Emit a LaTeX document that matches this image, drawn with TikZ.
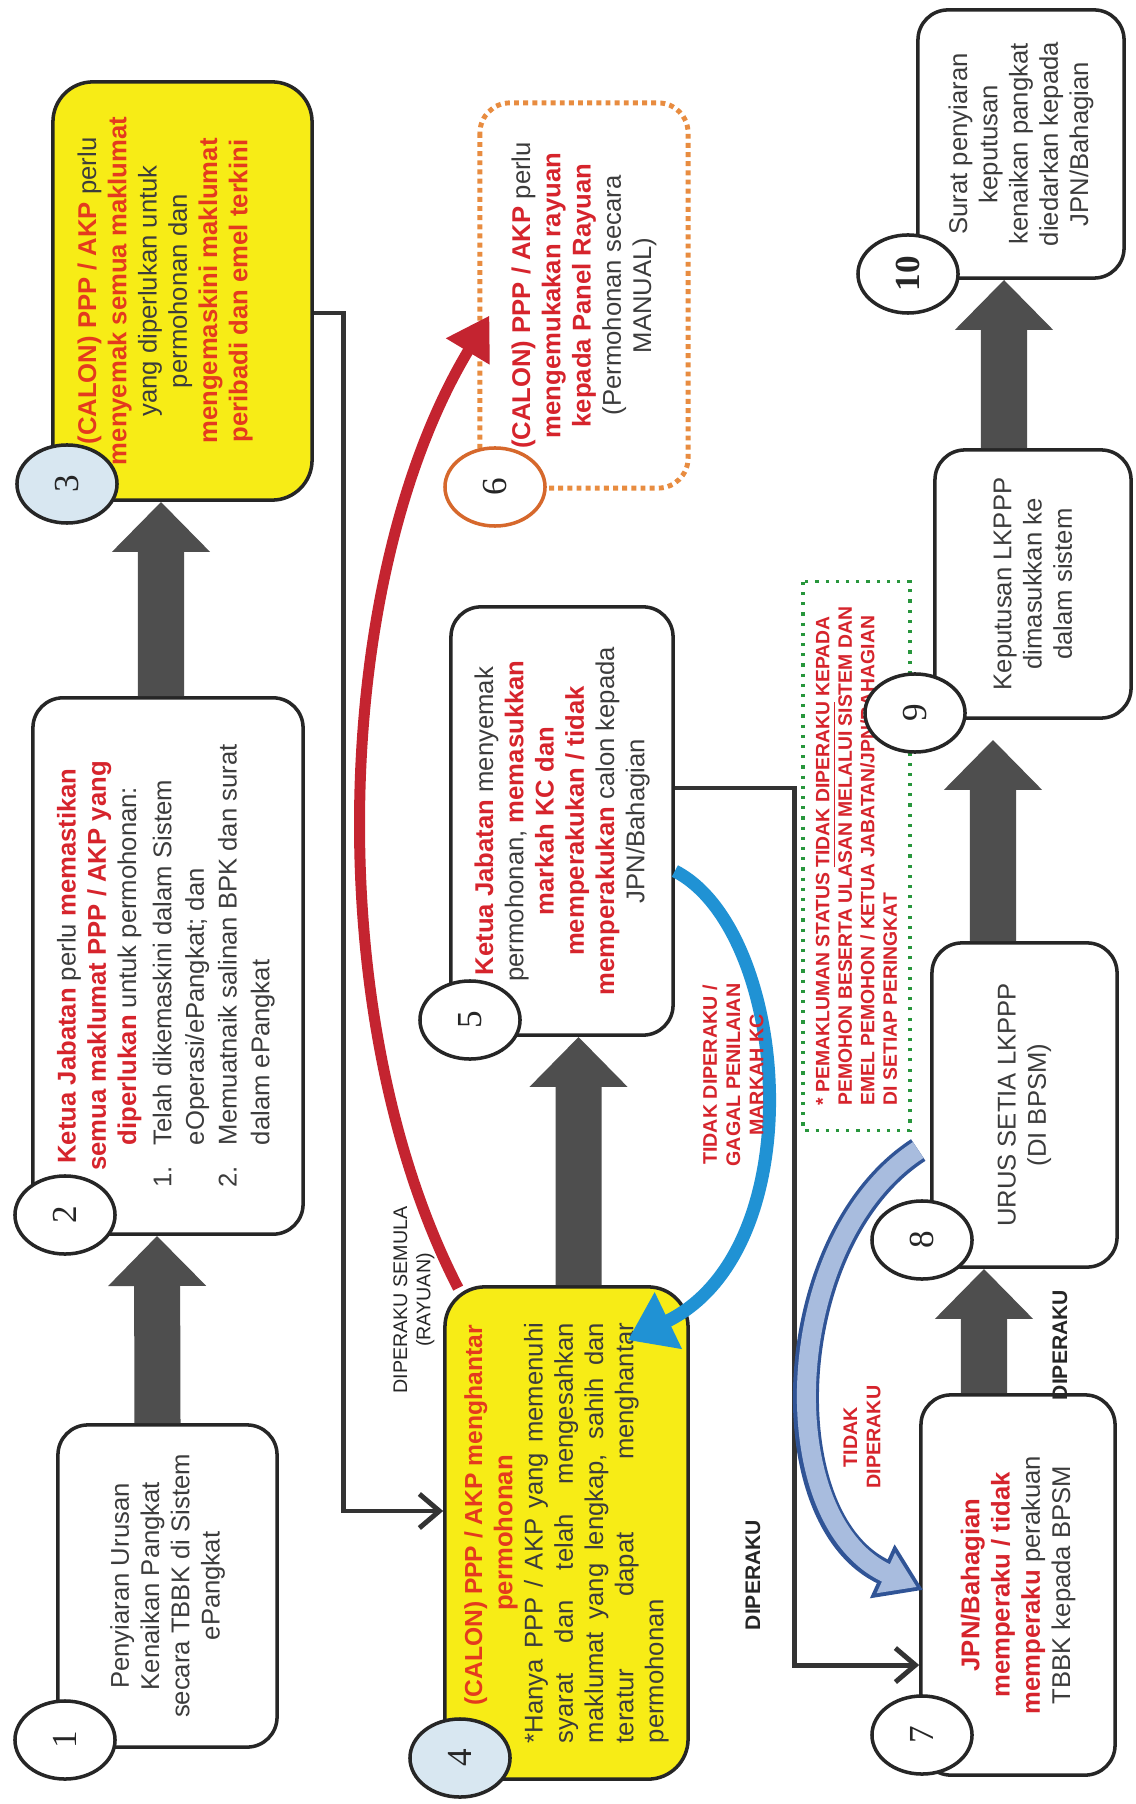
\documentclass[tikz,border=0pt]{standalone}
\usepackage{fontspec}
\setmainfont{Liberation Sans}
\newfontfamily\numfont{Liberation Serif}
\usetikzlibrary{positioning,shapes.geometric,arrows.meta}

\definecolor{boxyellow}{RGB}{247,236,22}
\definecolor{redtxt}{RGB}{214,36,44}
\definecolor{orgtxt}{RGB}{228,58,30}
\definecolor{txtgray}{RGB}{60,60,60}
\definecolor{circblue}{RGB}{216,231,241}
\definecolor{arrowgray}{RGB}{78,78,78}
\definecolor{arcred}{RGB}{196,36,48}
\definecolor{arcblue}{RGB}{32,146,212}
\definecolor{bandblue}{RGB}{48,84,150}
\definecolor{bandfill}{RGB}{168,188,222}
\definecolor{dotorange}{RGB}{232,140,64}
\definecolor{circorange}{RGB}{214,104,44}
\definecolor{dotgreen}{RGB}{40,150,60}

\newcommand{\rtx}[1]{\textcolor{redtxt}{\bfseries #1}}
\newcommand{\otx}[1]{\textcolor{orgtxt}{\bfseries #1}}

\begin{document}
\begin{tikzpicture}[x=0.01cm,y=-0.01cm,
  every node/.style={font=\fontsize{7.3}{8.6}\selectfont,text=txtgray},
  procbox/.style={draw=black!85,line width=1pt,fill=white,rounded corners=0.3cm,rotate=90,align=center},
  ybox/.style={procbox,fill=boxyellow,rounded corners=0.4cm},
  dotbox/.style={procbox,draw=dotorange,line width=1.4pt,dash pattern=on 1.4pt off 1.2pt},
  notebox/.style={draw=dotgreen,line width=0.9pt,dotted,rotate=90,align=left,inner sep=2pt,
    font=\bfseries\fontsize{5.5}{6.4}\selectfont,text=redtxt},
  numcirc/.style={ellipse,draw=black!85,line width=1pt,fill=white,rotate=90,inner sep=0pt,
    minimum width=0.78cm,minimum height=1.0cm,font=\numfont\fontsize{10}{10}\selectfont,text=black!85},
  bigarrow/.style={line width=0.46cm,draw=arrowgray,-{Triangle[length=0.5cm,width=0.95cm]}},
  link/.style={line width=1.4pt,draw=black!80,-{Straight Barb[length=0.2cm,width=0.34cm]}},
  redarc/.style={line width=0.11cm,draw=arcred,-{Triangle[length=0.42cm,width=0.48cm]}},
  bluearc/.style={line width=0.13cm,draw=arcblue,-{Triangle[length=0.45cm,width=0.6cm]}},
  bandout/.style={line width=0.26cm,draw=bandblue,-{Triangle[length=0.45cm,width=0.56cm]}},
  bandin/.style={line width=0.19cm,draw=bandfill,shorten >=0.07cm,-{Triangle[length=0.34cm,width=0.42cm]}},
  flowlbl/.style={rotate=90,align=center,font=\fontsize{5.6}{6.6}\selectfont,text=black!85},
  redlbl/.style={rotate=90,align=center,font=\bfseries\fontsize{5.6}{6.6}\selectfont,text=redtxt}]

\fill[white] (0,0) rectangle (1135,1804);
\useasboundingbox (0,0) rectangle (1135,1804);

% left column
\node[procbox,minimum width=3.22cm,minimum height=2.19cm] (b1) at (167.5,1586)
  {Penyiaran Urusan\\Kenaikan Pangkat\\secara TBBK di Sistem\\ePangkat};
\node[procbox,minimum width=5.36cm,minimum height=2.70cm] (b2) at (168,966)
  {\rtx{Ketua Jabatan} perlu \rtx{memastikan}\\
   \rtx{semua maklumat PPP / AKP yang}\\
   \rtx{diperlukan} untuk permohonan:\\[1pt]
   \renewcommand{\arraystretch}{1.08}%
   \begin{tabular}{@{}l@{\hspace{6pt}}l@{}}
   1. & Telah dikemaskini dalam Sistem\\
      & eOperasi/ePangkat; dan\\
   2. & Memuatnaik salinan BPK dan surat\\
      & dalam ePangkat
   \end{tabular}};
\node[ybox,minimum width=4.18cm,minimum height=2.59cm,text depth=0.4cm] (b3) at (182.5,291)
  {\otx{(CALON) PPP / AKP} perlu\\
   \otx{menyemak semua maklumat}\\
   yang diperlukan untuk\\
   permohonan dan\\
   \otx{mengemaskini maklumat}\\
   \otx{peribadi dan emel terkini}};

% middle column
\node[ybox,minimum width=4.92cm,minimum height=2.43cm] (b4) at (566.5,1533)
  {\hspace*{0.35cm}\otx{\fontsize{7}{8.6}\selectfont(CALON) PPP / AKP menghantar}\\
   \otx{permohonan}\\
   \makebox[4.2cm][s]{*Hanya PPP / AKP yang memenuhi}\\
   \makebox[4.2cm][s]{syarat dan telah mengesahkan}\\
   \makebox[4.2cm][s]{maklumat yang lengkap, sahih dan}\\
   \makebox[4.2cm][s]{teratur dapat menghantar}\\
   \makebox[4.2cm][l]{permohonan}};
\node[procbox,minimum width=4.28cm,minimum height=2.22cm] (b5) at (562,821)
  {\rtx{Ketua Jabatan} menyemak\\
   permohonan, \rtx{memasukkan}\\
   \rtx{markah KC dan}\\
   \rtx{memperakukan / tidak}\\
   \rtx{memperakukan} calon kepada\\
   JPN/Bahagian};
\node[dotbox,minimum width=3.85cm,minimum height=2.08cm] (b6) at (584,295.5)
  {\rtx{(CALON) PPP / AKP} perlu\\
   \rtx{mengemukakan rayuan}\\
   \rtx{kepada Panel Rayuan}\\
   (Permohonan secara\\
   MANUAL)};

% right column
\node[procbox,minimum width=3.80cm,minimum height=1.94cm] (b7) at (1018,1585)
  {\rtx{JPN/Bahagian}\\
   \rtx{memperaku / tidak}\\
   \rtx{memperaku} perakuan\\
   TBBK kepada BPSM};
\node[procbox,minimum width=3.24cm,minimum height=1.85cm] (b8) at (1024.5,1105)
  {URUS SETIA LKPPP\\(DI BPSM)};
\node[procbox,minimum width=2.68cm,minimum height=1.96cm] (b9) at (1033,584)
  {Keputusan LKPPP\\dimasukkan ke\\dalam sistem};
\node[procbox,minimum width=2.68cm,minimum height=2.06cm] (b10) at (1021,144)
  {Surat penyiaran\\keputusan\\kenaikan pangkat\\diedarkan kepada\\JPN/Bahagian};
\node[notebox,minimum width=5.48cm,minimum height=1.07cm] (note) at (856.5,856)
  {* PEMAKLUMAN STATUS \underline{TIDAK DIPERAKU} KEPADA\\
   PEMOHON BESERTA ULASAN MELALUI SISTEM DAN\\
   EMEL PEMOHON / KETUA JABATAN/JPN/BAHAGIAN\\
   DI SETIAP PERINGKAT};

% main flow
\draw[bigarrow] ([xshift=-0.1cm]b1.east) -- ([xshift=-0.11cm]b2.west);
\draw[bigarrow] ([xshift=-0.07cm]b2.east) -- ([xshift=-0.215cm]b3.west);
\draw[bigarrow] ([xshift=0.12cm]b4.east) -- ([xshift=0.165cm]b5.west);
\draw[bigarrow] ([xshift=-0.34cm]b7.east) -- ([xshift=-0.405cm]b8.west);
\draw[bigarrow,shorten >=0.2cm] ([xshift=-0.315cm]b8.east) -- ([xshift=-0.40cm]b9.west);
\draw[bigarrow] ([xshift=-0.29cm]b9.east) -- ([xshift=-0.17cm]b10.west);

\draw[link] ([yshift=-0.22cm]b3.south) -- ++(0.3cm,0) |- ([yshift=0.22cm]b4.north);
\draw[link] ([yshift=0.33cm]b5.south) -- ++(1.2cm,0) |- ([yshift=-0.8cm]b7.north);

% appeal and rejection loops
\draw[redarc] ([xshift=0.15cm,yshift=-0.03cm]b4.north east)
  .. controls (320,1020) and (330,580) .. ([xshift=0.12cm,yshift=-0.2cm]b6.north);
\draw[bluearc] ([yshift=-0.5cm]b5.south)
  .. controls (790,930) and (815,1250) .. ([xshift=-0.62cm,yshift=-0.55cm]b4.south east);
\draw[bandout] ([xshift=-0.12cm,yshift=-0.45cm]b8.north)
  .. controls (780,1240) and (770,1520) .. ([xshift=0.04cm,yshift=-0.05cm]b7.north);
\draw[bandin] ([xshift=-0.12cm,yshift=-0.45cm]b8.north)
  .. controls (780,1240) and (770,1520) .. ([xshift=0.04cm,yshift=-0.05cm]b7.north);

% labels
\node[flowlbl] (lblsemula) at (414,1300) {DIPERAKU SEMULA\\(RAYUAN)};
\node[flowlbl,font=\bfseries\fontsize{6}{7}\selectfont] (lbldip1) at (753,1575) {DIPERAKU};
\node[flowlbl,font=\bfseries\fontsize{6}{7}\selectfont] (lbldip2) at (1060,1345) {DIPERAKU};
\node[redlbl] (lbltidak) at (862,1437) {TIDAK\\DIPERAKU};
\node[redlbl] (lblgagal) at (733,1075) {TIDAK DIPERAKU /\\GAGAL PENILAIAN\\MARKAH KC};

% step numbers
\node[numcirc] (c1) at (65,1740) {1};
\node[numcirc] (c2) at (65,1215) {2};
\node[numcirc,fill=circblue] (c3) at (67,484) {3};
\node[numcirc,fill=circblue] (c4) at (460,1758) {4};
\node[numcirc] (c5) at (470,1020) {5};
\node[numcirc,draw=circorange] (c6) at (495,487) {6};
\node[numcirc] (c7) at (922,1735) {7};
\node[numcirc] (c8) at (922,1240) {8};
\node[numcirc] (c9) at (915,713) {9};
\node[numcirc,font=\numfont\bfseries\fontsize{10}{10}\selectfont] (c10) at (908,274) {10};
\end{tikzpicture}
\end{document}
